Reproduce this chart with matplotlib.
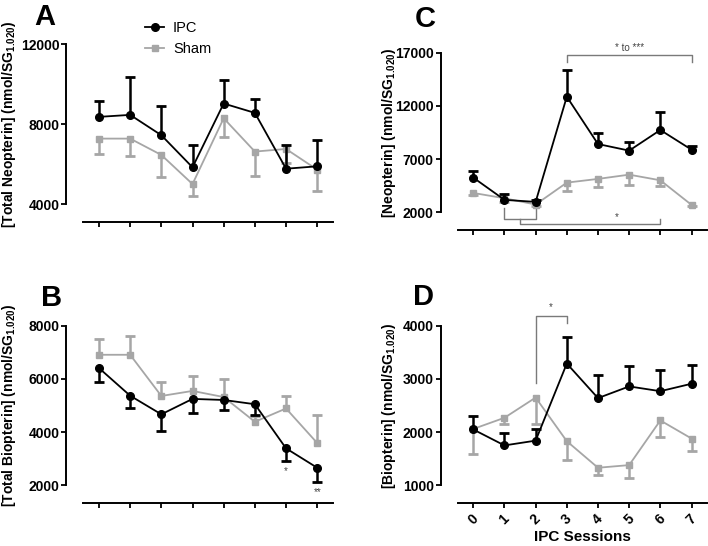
import numpy as np
import matplotlib
matplotlib.use('Agg')
import matplotlib.pyplot as plt

plt.rcParams['font.family'] = ['Liberation Sans', 'DejaVu Sans']
plt.rcParams['mathtext.fontset'] = 'custom'
plt.rcParams['mathtext.rm'] = 'Liberation Sans'
plt.rcParams['mathtext.bf'] = 'Liberation Sans:bold'

sessions = np.arange(8)
session_labels = ['0', '1', '2', '3', '4', '5', '6', '7']

# A - total neopterin
a_ipc = [8370, 8470, 7450, 5840, 9040, 8570, 5770, 5890]
a_ipc_err = [820, 1890, 1450, 1100, 1200, 680, 1170, 1300]
a_sham = [7280, 7280, 6460, 5000, 8300, 6630, 6760, 5720]
a_sham_err = [770, 850, 1120, 620, 950, 1240, 700, 1050]

# B - total biopterin
b_ipc = [6410, 5370, 4670, 5250, 5210, 5050, 3390, 2660]
b_ipc_err = [540, 470, 640, 540, 380, 420, 480, 540]
b_sham = [6910, 6910, 5360, 5550, 5320, 4390, 4890, 3590]
b_sham_err = [590, 710, 510, 550, 660, 200, 480, 1060]

# C - neopterin
c_ipc = [5260, 3170, 2980, 12870, 8420, 7800, 9740, 7890]
c_ipc_err = [620, 560, 190, 2500, 1000, 780, 1660, 380]
c_sham = [3820, 3320, 2730, 4790, 5140, 5540, 5010, 2700]
c_sham_err = [200, 350, 130, 750, 780, 970, 530, 150]

# D - biopterin
d_ipc = [2050, 1750, 1840, 3290, 2640, 2860, 2770, 2910]
d_ipc_err = [250, 240, 210, 500, 440, 380, 390, 360]
d_sham = [2060, 2270, 2650, 1830, 1330, 1380, 2220, 1880]
d_sham_err = [480, 110, 490, 350, 130, 240, 310, 240]

black = '#000000'
grey = '#a6a6a6'
bracket_col = '#7a7a7a'

fig = plt.figure(figsize=(7.08, 5.46), dpi=100)
W, H = 708.0, 546.0


def make_ax(left_px, bottom_px, ylim, yticks, ylabel, labelx):
    ax = fig.add_axes([left_px / W, (H - bottom_px) / H, 249.4 / W, 159.5 / H])
    ax.set_xlim(-0.5, 7.5)
    ax.set_ylim(*ylim)
    for s in ['top', 'right']:
        ax.spines[s].set_visible(False)
    # offsets are in points (17-18 px at 100 dpi)
    ax.spines['left'].set_position(('outward', 12.2))
    ax.spines['bottom'].set_position(('outward', 12.6))
    ax.spines['left'].set_bounds(ylim[0], ylim[1])
    ax.spines['left'].set_linewidth(1.4)
    ax.spines['bottom'].set_linewidth(1.4)
    ax.set_yticks(yticks)
    ax.set_xticks(sessions)
    ax.tick_params(direction='out', length=3.4, width=1.3, pad=1.6, labelsize=10)
    for lab in ax.get_yticklabels():
        lab.set_fontweight('bold')
    ax.set_ylabel(ylabel, fontsize=10, fontweight='bold')
    ax.yaxis.set_label_coords(labelx, 0.5)
    ax.patch.set_visible(False)
    return ax


def draw(ax, ipc, ipc_err, sham, sham_err, ipc_up, sham_up):
    ipc = np.array(ipc); sham = np.array(sham)
    ipc_end = ipc + np.array(ipc_err) * (1 if ipc_up else -1)
    sham_end = sham + np.array(sham_err) * (1 if sham_up else -1)
    ax.vlines(sessions, sham, sham_end, color=grey, lw=1.8, zorder=2, clip_on=False)
    ax.plot(sessions, sham_end, ls='none', marker='_', ms=7, mew=2, color=grey, zorder=2, clip_on=False)
    ax.plot(sessions, sham, color=grey, lw=1.3, marker='s', ms=5, zorder=3, clip_on=False, label='Sham')
    ax.vlines(sessions, ipc, ipc_end, color=black, lw=1.8, zorder=4, clip_on=False)
    ax.plot(sessions, ipc_end, ls='none', marker='_', ms=7, mew=2, color=black, zorder=4, clip_on=False)
    ax.plot(sessions, ipc, color=black, lw=1.3, marker='o', ms=5.5, zorder=5, clip_on=False, label='IPC')


sg = r'(nmol/SG$_{\mathbf{1.020}}$)'

axA = make_ax(83.4, 204, (4000, 12000), [4000, 8000, 12000],
              '[Total Neopterin] ' + sg, -0.262)
draw(axA, a_ipc, a_ipc_err, a_sham, a_sham_err, True, False)
axA.set_xticklabels([])

axB = make_ax(83.4, 485.3, (2000, 8000), [2000, 4000, 6000, 8000],
              '[Total Biopterin] ' + sg, -0.262)
draw(axB, b_ipc, b_ipc_err, b_sham, b_sham_err, False, True)
axB.set_xticklabels([])
axB.text(6, b_ipc[6] - b_ipc_err[6] - 200, '*', ha='center', va='top', fontsize=7, color='#444444')
axB.text(7, b_ipc[7] - b_ipc_err[7] - 200, '**', ha='center', va='top', fontsize=7, color='#444444')

axC = make_ax(457.7, 212.3, (2000, 17000), [2000, 7000, 12000, 17000],
              '[Neopterin] ' + sg, -0.24)
draw(axC, c_ipc, c_ipc_err, c_sham, c_sham_err, True, False)
axC.set_xticklabels([])
# brackets in C
axC.plot([3, 3, 7, 7], [16150, 16780, 16780, 16150], color=bracket_col, lw=1, clip_on=False)
axC.text(5, 17000, '* to ***', ha='center', va='bottom', fontsize=7, color='#444444')
axC.plot([1, 1, 2, 2], [2370, 1340, 1340, 2370], color=bracket_col, lw=1, clip_on=False)
axC.plot([1.5, 1.5, 6, 6], [1340, 900, 900, 1340], color=bracket_col, lw=1, clip_on=False)
axC.text(4.6, 1050, '*', ha='center', va='bottom', fontsize=7, color='#444444')

axD = make_ax(457.7, 485.3, (1000, 4000), [1000, 2000, 3000, 4000],
              '[Biopterin] ' + sg, -0.24)
draw(axD, d_ipc, d_ipc_err, d_sham, d_sham_err, True, False)
axD.set_xticklabels(session_labels, rotation=45, ha='center', fontweight='bold')
axD.tick_params(axis='x', pad=3)
axD.set_xlabel('IPC Sessions', fontsize=11, fontweight='bold', labelpad=2)
axD.plot([2, 2, 3, 3], [2920, 4190, 4190, 4050], color=bracket_col, lw=1, clip_on=False)
axD.text(2.5, 4260, '*', ha='center', va='bottom', fontsize=7, color='#444444')

# legend
handles, labels = axA.get_legend_handles_labels()
fig.legend(handles[::-1], labels[::-1], loc='upper left', bbox_to_anchor=(138 / W, 1 - 14 / H),
           frameon=False, fontsize=10.5, handlelength=1.3, handletextpad=0.6, labelspacing=0.45,
           borderpad=0)

# panel letters
for letter, x, y in [('A', 34, 25), ('B', 41, 306), ('C', 415, 27), ('D', 413, 305)]:
    fig.text(x / W, 1 - y / H, letter, fontsize=21, fontweight='bold', va='baseline', ha='left')

fig.savefig('out.png', dpi=100)
